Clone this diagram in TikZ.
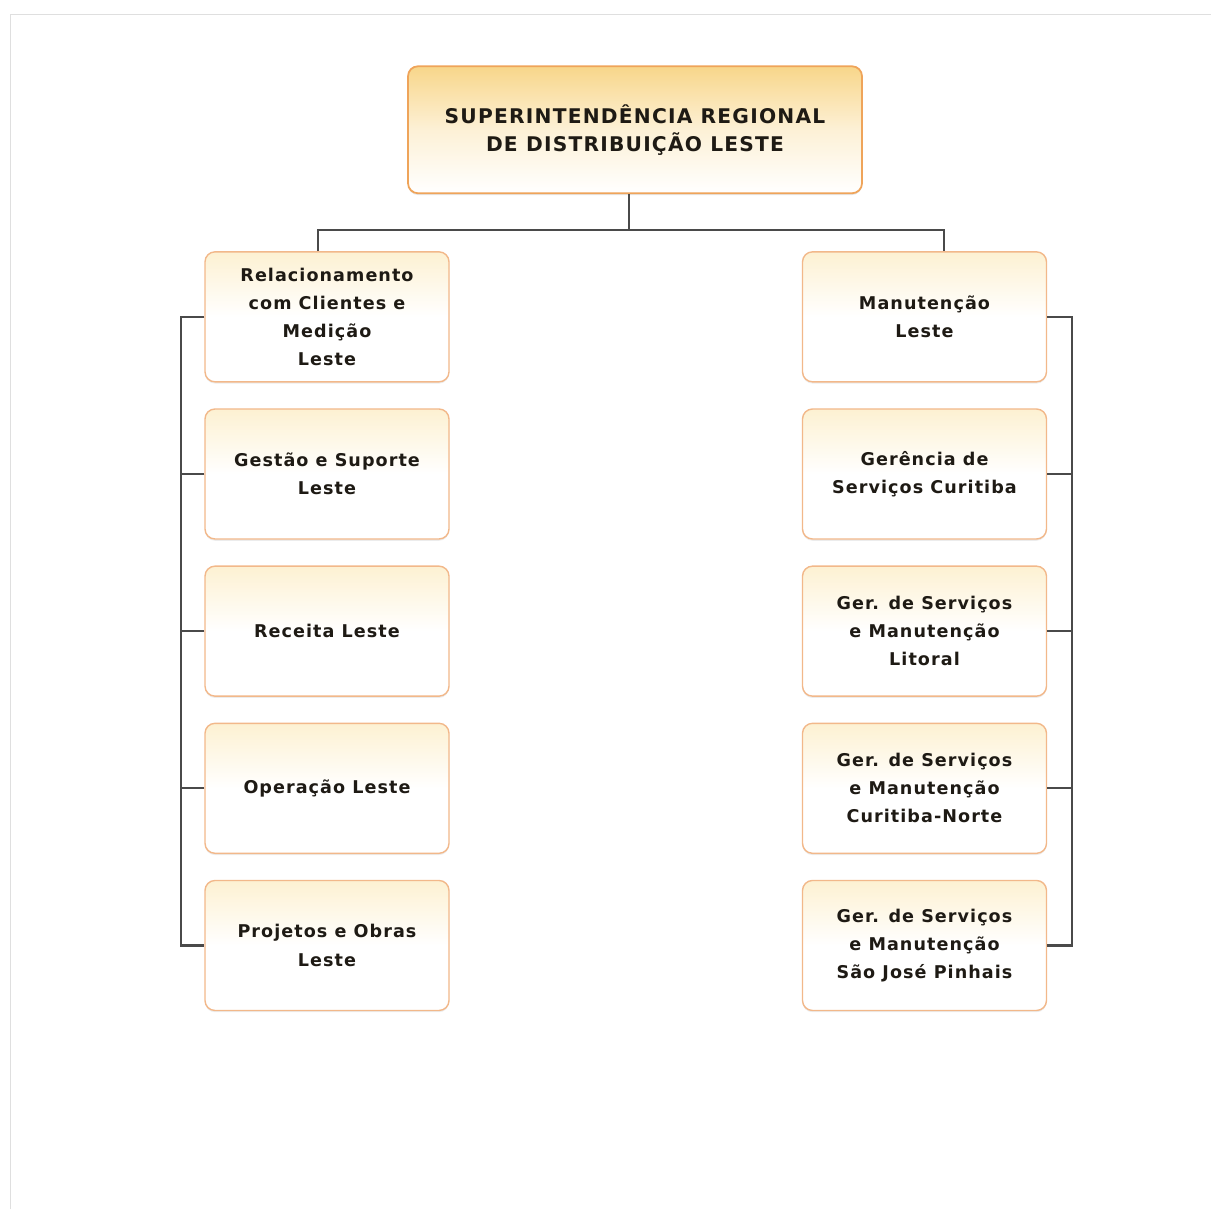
\documentclass[tikz,border=0pt]{standalone}
\usepackage{fontspec}
\setmainfont{DejaVu Sans}[LetterSpace=6]
\usepackage{tikz}
\usetikzlibrary{positioning,shadows}
\definecolor{borda}{HTML}{EFA45A}
\definecolor{bordaclara}{HTML}{F2B88A}
\definecolor{amarelo}{HTML}{F8D68A}
\definecolor{amareloclaro}{HTML}{FDF1D2}
\definecolor{linha}{HTML}{4A4A4A}
\definecolor{texto}{HTML}{1E1A14}
\tikzset{
  rectsup/.style args={#1,#2}{
  rounded corners=2mm,
  draw=borda,
  line width=1pt,
  top color=amarelo,
  bottom color=white,
  middle color=amarelo!35,
  minimum width=#1 cm,
  minimum height=#2 cm,
  align=center,
  text=texto,
  font=\bfseries\fontsize{11.5}{16}\selectfont,
  drop shadow={shadow xshift=0pt,shadow yshift=-1pt,opacity=0.2}
  },
  rectnode/.style args={#1,#2}{
  rounded corners=2mm,
  draw=bordaclara,
  line width=0.8pt,
  top color=amareloclaro,
  bottom color=white,
  middle color=white,
  minimum width=#1 cm,
  minimum height=#2 cm,
  align=center,
  text=texto,
  font=\bfseries\fontsize{10}{16}\selectfont,
  drop shadow={shadow xshift=0pt,shadow yshift=-1pt,opacity=0.15}
  },
  liga/.style={draw=linha,line width=1.2pt},
  node distance=0.515cm
}
\begin{document}
\begin{tikzpicture}
  \useasboundingbox (0,0) rectangle (24.22,-24.18);
  \draw[gray!25] (0.2,-24.18) -- (0.2,-0.28) -- (24.22,-0.28);

  \node [rectsup={9.08,2.54}] (sup) at (12.7,-2.595) {SUPERINTENDÊNCIA REGIONAL\\DE DISTRIBUIÇÃO LESTE};

  % esquerda
  \node [rectnode={4.88,2.6},below=1.14cm of sup,xshift=-6.16cm] (e1) {Relacionamento\\com Clientes e\\Medição\\Leste};
  \node [rectnode={4.88,2.6},below=of e1] (e2) {Gestão e Suporte\\Leste};
  \node [rectnode={4.88,2.6},below=of e2] (e3) {Receita Leste};
  \node [rectnode={4.88,2.6},below=of e3] (e4) {Operação Leste};
  \node [rectnode={4.88,2.6},below=of e4] (e5) {Projetos e Obras\\Leste};

  % direita
  \node [rectnode={4.88,2.6},below=1.14cm of sup,xshift=5.79cm] (d1) {Manutenção\\Leste};
  \node [rectnode={4.88,2.6},below=of d1] (d2) {Gerência de\\Serviços Curitiba};
  \node [rectnode={4.88,2.6},below=of d2] (d3) {Ger. de Serviços\\e Manutenção\\Litoral};
  \node [rectnode={4.88,2.6},below=of d3] (d4) {Ger. de Serviços\\e Manutenção\\Curitiba-Norte};
  \node [rectnode={4.88,2.6},below=of d4] (d5) {Ger. de Serviços\\e Manutenção\\São José Pinhais};

  \draw[liga] ([xshift=-0.12cm]sup.south) -- ++(0,-0.72) coordinate (bar);
  \draw[liga] ([xshift=-0.18cm]e1.north) |- (bar) -| ([xshift=0.39cm]d1.north);

  \draw[liga] (e1.west) -- ++(-0.46,0) |- (e5.west);
  \draw[liga] (d1.east) -- ++(0.5,0) |- (d5.east);
  \foreach \i in {2,3,4} {
    \draw[liga] (e\i.west) -- ++(-0.46,0);
    \draw[liga] (d\i.east) -- ++(0.5,0);
  }
\end{tikzpicture}
\end{document}
